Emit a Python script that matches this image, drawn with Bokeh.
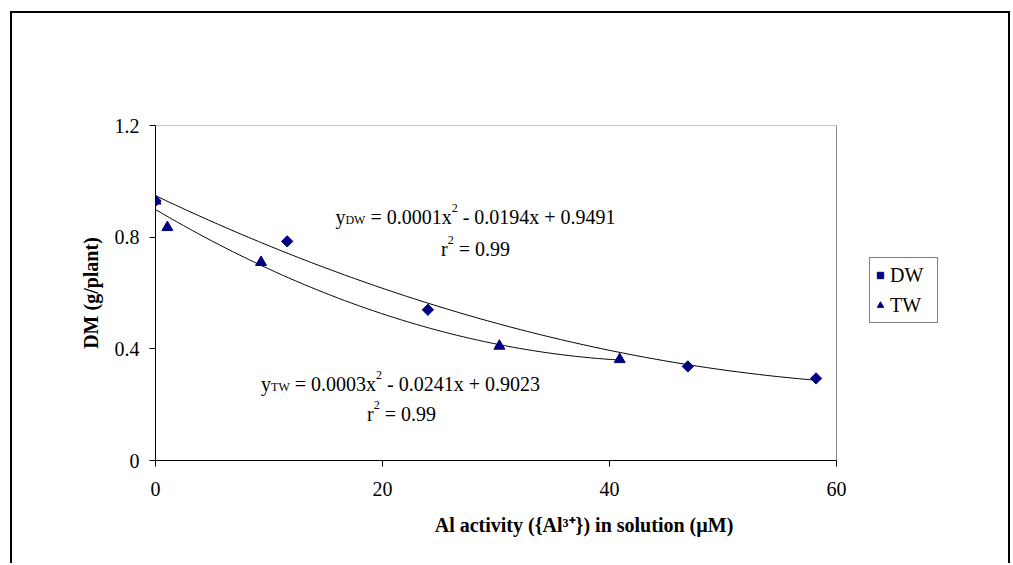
import numpy as np
from bokeh.plotting import figure
from bokeh.models import Range1d, FixedTicker, Label, Legend, LegendItem, Title
from bokeh.embed import file_html
from bokeh.resources import INLINE

# ---- data ----
dw_x = [0.0, 11.6, 24.0, 46.9, 58.2]
dw_y = [0.93, 0.785, 0.54, 0.337, 0.294]
tw_x = [0.0, 1.05, 9.3, 30.3, 40.9]
tw_y = [0.93, 0.835, 0.71, 0.41, 0.362]
series_names = ["DW", "TW"]
x_ticks = [0, 20, 40, 60]
y_ticks = [0, 0.4, 0.8, 1.2]
y_tick_labels = ["0", "0.4", "0.8", "1.2"]
x_title = "Al activity ({Al\u00b3\u207a}) in solution (\u00b5M)"
y_title = "DM (g/plant)"
dw_equation = [("y", "n"), ("DW", "sub"), (" = 0.0001x", "n"), ("2", "sup"), (" - 0.0194x + 0.9491", "n")]
tw_equation = [("y", "n"), ("TW", "sub"), (" = 0.0003x", "n"), ("2", "sup"), (" - 0.0241x + 0.9023", "n")]
r2_text = [("r", "n"), ("2", "sup"), (" = 0.99", "n")]

FONT = "Liberation Serif"
NAVY = "#000080"
OX, OY = 12, 13  # outer chart-area border offset (margin + border width)
W, H = 1013 - OX - 1, 565 - OY
FL, FR, FT, FB = 155 - OX, 836 - OX, 125 - OY, 460 - OY  # plot-area edges in figure pixels
x_lo, x_hi = x_ticks[0], x_ticks[-1]
y_lo, y_hi = y_ticks[0], y_ticks[-1]
# the drawing frame runs to the right edge so the legend (outside the plot area) is not clipped
x_end = x_lo + (x_hi - x_lo) * (W - FL) / (FR - FL)

p = figure(width=W, height=H, output_backend="svg", toolbar_location=None,
           x_range=Range1d(x_lo, x_end), y_range=Range1d(y_lo, y_hi),
           min_border_left=FL, min_border_right=0,
           min_border_top=FT, min_border_bottom=H - FB)
p.margin = (OY - 2, 0, 0, OX - 2)
p.styles = {"border-left": "2px solid black", "border-top": "2px solid black",
            "border-right": "2px solid black"}
p.xgrid.visible = False
p.ygrid.visible = False
p.outline_line_color = None
p.background_fill_color = "white"
p.border_fill_color = "white"

p.xaxis.ticker = FixedTicker(ticks=x_ticks)
p.xaxis.bounds = (x_lo, x_hi)
p.yaxis.ticker = FixedTicker(ticks=y_ticks)
p.yaxis.major_label_overrides = {t: l for t, l in zip(y_ticks, y_tick_labels)}
for ax in (p.xaxis, p.yaxis):
    ax.axis_line_color = "black"
    ax.axis_line_width = 1
    ax.major_tick_out = 6
    ax.major_tick_in = 0
    ax.minor_tick_line_color = None
    ax.major_tick_line_color = "black"
    ax.major_label_text_font = FONT
    ax.major_label_text_font_size = "20px"
    ax.major_label_text_color = "black"
    ax.axis_label_text_font = FONT
    ax.axis_label_text_font_size = "20px"
    ax.axis_label_text_font_style = "bold"
    ax.axis_label_text_color = "black"
p.yaxis.axis_label = y_title
p.xaxis.major_label_standoff = 15
p.yaxis.major_label_standoff = 10
p.yaxis.axis_label_standoff = 10

# x-axis title, centred under the plot area (the drawing frame is wider)
p.add_layout(Title(text=x_title, align="center", offset=(FR - W) / 2, standoff=26,
                   text_font=FONT, text_font_size="20px", text_font_style="bold",
                   text_color="black"), "below")

# grey plot-area border (top and right)
p.segment(x0=[x_lo, x_hi], y0=[y_hi, y_lo], x1=[x_hi, x_hi], y1=[y_hi, y_hi],
          line_color="#888888", line_width=1)

# trendlines (2nd-order polynomial fitted to the points)
for xs, ys in ((dw_x, dw_y), (tw_x, tw_y)):
    c = np.polyfit(xs, ys, 2)
    xx = np.linspace(min(xs), max(xs), 200)
    p.line(xx, np.polyval(c, xx), line_color="black", line_width=1)

r_dw = p.scatter(dw_x, dw_y, marker="square", angle=np.pi / 4, size=8, color=NAVY)
r_tw = p.scatter(tw_x, tw_y, marker="triangle", size=11, color=NAVY)

legend = Legend(items=[LegendItem(label=series_names[0], renderers=[r_dw]),
                       LegendItem(label=series_names[1], renderers=[r_tw])],
                location=(869 - 155, 460 - 323), orientation="vertical",
                padding=2, spacing=0, margin=0,
                glyph_width=16, glyph_height=30, label_height=30,
                label_width=45, label_standoff=2,
                border_line_color="black", border_line_width=1,
                background_fill_color="white", background_fill_alpha=1,
                label_text_font=FONT, label_text_font_size="20px",
                label_text_color="black")
p.add_layout(legend)

# rich-text equations
EM = {'y': 0.5, 'D': 0.722, 'W': 0.944, 'T': 0.611, ' ': 0.25, '=': 0.564,
      '.': 0.25, 'x': 0.5, '-': 0.333, '+': 0.564, 'r': 0.333}
SIZES = {"n": 20, "sub": 12, "sup": 12}
SHIFT = {"n": 0, "sub": 3, "sup": -9}


def tw(s, size):
    return sum(EM.get(ch, 0.5) for ch in s) * size


def rich(parts, cx, base):
    cx -= OX
    base -= OY
    total = sum(tw(t, SIZES[k]) for t, k in parts)
    x = cx - total / 2
    for t, k in parts:
        lead = len(t) - len(t.lstrip(" "))
        xs = x + lead * 0.25 * SIZES[k]
        p.add_layout(Label(x=xs - FL, y=FB - (base + SHIFT[k]), x_units="screen", y_units="screen",
                           text=t.strip(" "), text_font=FONT, text_font_size=f"{SIZES[k]}px",
                           text_color="black", text_baseline="alphabetic", text_align="left"))
        x += tw(t, SIZES[k])


rich(dw_equation, 475, 216)
rich(r2_text, 475, 248)
rich(tw_equation, 400, 383)
rich(r2_text, 401, 413)

open("out.html", "w").write(file_html(p, INLINE))
